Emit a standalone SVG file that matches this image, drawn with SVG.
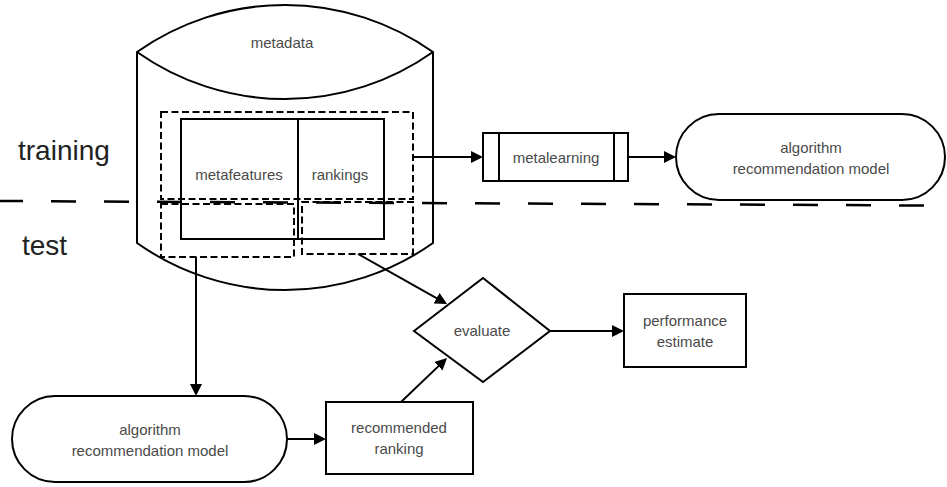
<svg xmlns="http://www.w3.org/2000/svg" width="947" height="487" viewBox="0 0 947 487">
<style>
.s{fill:#fff;stroke:#000;stroke-width:2}
.n{fill:none;stroke:#000;stroke-width:2}
.d{fill:none;stroke:#000;stroke-width:2;stroke-dasharray:7 3.5}
.t{font-family:"Liberation Sans",Arial,sans-serif;font-size:15px;fill:#4a4a4a;text-anchor:middle}
.big{font-family:"Liberation Sans",Arial,sans-serif;font-size:28px;fill:#222}
.c{fill:none;stroke:#000;stroke-width:2;marker-end:url(#ah)}
</style>
<defs>
<marker id="ah" markerWidth="12" markerHeight="12" refX="6" refY="6" orient="auto" markerUnits="userSpaceOnUse"><path d="M0,0 L12,6 L0,12 z" fill="#000"/></marker>
</defs>
<rect width="947" height="487" fill="#fff"/>
<g id="labels">
<text class="big" x="18" y="160">training</text>
<text class="big" x="22" y="255">test</text>
</g>
<g id="metadata">
<path class="s" d="M137,52 A256.5,256.5 0 0 1 433,52 L433,243 A256.5,256.5 0 0 1 137,243 Z"/>
<path class="n" d="M137,52 A256.5,256.5 0 0 0 433,52"/>
<text class="t" x="282" y="48">metadata</text>
<rect class="n" x="181" y="119" width="203" height="120"/>
<line class="n" x1="298" y1="119" x2="298" y2="239"/>
<text class="t" x="239" y="180">metafeatures</text>
<text class="t" x="340" y="180">rankings</text>
<rect class="d" x="161" y="112" width="252" height="87"/>
<rect class="d" x="161" y="204" width="133" height="53"/>
<rect class="d" x="302" y="202" width="111" height="52"/>
</g>
<g id="metalearning">
<rect class="s" x="483" y="133" width="145" height="48"/>
<line class="n" x1="499" y1="133" x2="499" y2="181"/>
<line class="n" x1="614" y1="133" x2="614" y2="181"/>
<text class="t" x="556" y="163">metalearning</text>
</g>
<g id="model-train">
<rect class="s" x="676" y="114" width="269" height="86" rx="43" ry="43"/>
<text class="t" x="811" y="153">algorithm</text>
<text class="t" x="811" y="174">recommendation model</text>
</g>
<g id="model-test">
<rect class="s" x="12" y="396" width="275" height="86" rx="43" ry="43"/>
<text class="t" x="150" y="435">algorithm</text>
<text class="t" x="150" y="456">recommendation model</text>
</g>
<g id="recommended">
<rect class="s" x="326" y="402" width="147" height="72"/>
<text class="t" x="399" y="433">recommended</text>
<text class="t" x="399" y="454">ranking</text>
</g>
<g id="evaluate">
<path class="s" d="M414,331 L483,278 L550,331 L483,382 Z"/>
<text class="t" x="482" y="336">evaluate</text>
</g>
<g id="performance">
<rect class="s" x="624" y="294" width="122" height="73"/>
<text class="t" x="685" y="326">performance</text>
<text class="t" x="685" y="347">estimate</text>
</g>
<g id="connectors">
<line class="c" x1="413" y1="157" x2="477" y2="157"/>
<line class="c" x1="628" y1="157" x2="670" y2="157"/>
<line class="c" x1="196" y1="257" x2="196" y2="390"/>
<line class="c" x1="287" y1="439" x2="320" y2="439"/>
<line class="c" x1="401" y1="402" x2="442.7" y2="362.1"/>
<line class="c" x1="358" y1="254" x2="441.8" y2="301.1"/>
<line class="c" x1="550" y1="331" x2="618" y2="331"/>
</g>
<g id="divider">
<line x1="-2" y1="201" x2="924" y2="205.5" stroke="#000" stroke-width="2.5" stroke-dasharray="25 28"/>
</g>
</svg>
